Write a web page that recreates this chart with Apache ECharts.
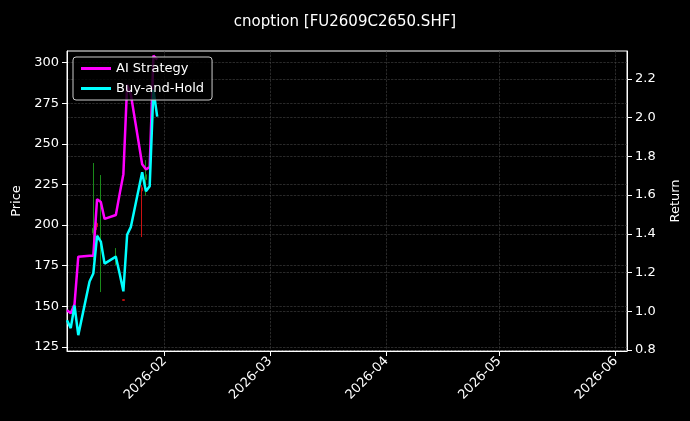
<!DOCTYPE html>
<html><head><meta charset="utf-8">
<script src="https://cdn.jsdelivr.net/npm/echarts@6/dist/echarts.min.js"></script>
<style>html,body{margin:0;background:#000}#c{width:690px;height:421px}</style></head>
<body><div id="c"></div>
<script>
const dates = ["2026-01-06","2026-01-07","2026-01-08","2026-01-09","2026-01-12","2026-01-13","2026-01-14","2026-01-15","2026-01-16","2026-01-19","2026-01-20","2026-01-21","2026-01-22","2026-01-23","2026-01-26","2026-01-27","2026-01-28","2026-01-29","2026-01-30"];
const aiStrategy = [1.005,0.99,1.036,1.282,1.287,1.287,1.579,1.564,1.477,1.497,1.605,1.708,2.169,2.118,1.759,1.733,1.744,2.32,2.30];
const buyHold = [0.954,0.913,1.03,0.877,1.154,1.195,1.39,1.36,1.246,1.282,1.195,1.103,1.395,1.436,1.718,1.62,1.646,2.144,2.005];
const candleDates = ["2026-01-13","2026-01-14","2026-01-15","2026-01-19","2026-01-21","2026-01-26","2026-01-27"];
// [open, close, low, high]
const candles = [[195,198,178.4,238.2],[201,199,197,202],[185,188,158.7,230.8],[178,181,175.3,185.8],[154,153.6,153.5,154.2],[223,221,192.6,224.6],[228,231,218,240]];
const priceTicks = [125,150,175,200,225,250,275,300];
const returnTicks = [0.8,1.0,1.2,1.4,1.6,1.8,2.0,2.2];

const ts = d => new Date(d + "T00:00:00Z").getTime();
const chart = echarts.init(document.getElementById('c'));
const gridLine = {show:true,lineStyle:{color:'#444',type:'dashed',width:0.6}};
const F = 'DejaVu Sans';
chart.setOption({
  backgroundColor:'#000',
  animation:false,
  title:{text:'cnoption [FU2609C2650.SHF]',left:'center',top:10,textStyle:{color:'#fff',fontSize:15,fontWeight:'normal',fontFamily:F}},
  legend:{left:73,top:57,orient:'vertical',itemGap:7,itemWidth:30,itemHeight:3,backgroundColor:'rgba(0,0,0,0.8)',borderColor:'#ccc',borderWidth:1,borderRadius:3,padding:[5,8],
    textStyle:{color:'#fff',fontSize:13,fontFamily:F},data:[{name:'AI Strategy',icon:'rect'},{name:'Buy-and-Hold',icon:'rect'}]},
  grid:{left:67,right:62,top:51,bottom:70,show:true,borderColor:'#fff',borderWidth:1,backgroundColor:'transparent'},
  xAxis:{type:'time',min:ts("2026-01-06"),max:ts("2026-06-04"),
    minInterval:28*86400000,maxInterval:31*86400000,
    axisLine:{show:true,onZero:false,lineStyle:{color:'#fff'}},axisTick:{show:true,lineStyle:{color:'#fff'}},
    axisLabel:{color:'#fff',rotate:45,fontSize:13,fontFamily:F,formatter:'{yyyy}-{MM}',showMinLabel:false,showMaxLabel:false,hideOverlap:false},
    splitLine:gridLine},
  yAxis:[
    {type:'value',min:122.4,max:307.2,name:'Price',nameLocation:'middle',nameGap:44,nameTextStyle:{color:'#fff',fontSize:13,fontFamily:F},
     axisLine:{show:true,lineStyle:{color:'#fff'}},axisTick:{show:true,customValues:priceTicks,lineStyle:{color:'#fff'}},
     axisLabel:{color:'#fff',fontSize:13,fontFamily:F,customValues:priceTicks},splitLine:gridLine},
    {type:'value',min:0.795,max:2.344,name:'Return',nameLocation:'middle',nameGap:42,nameTextStyle:{color:'#fff',fontSize:13,fontFamily:F},
     axisLine:{show:true,lineStyle:{color:'#fff'}},axisTick:{show:true,customValues:returnTicks,lineStyle:{color:'#fff'}},
     axisLabel:{color:'#fff',fontSize:13,fontFamily:F,customValues:returnTicks,formatter:v=>v.toFixed(1)},splitLine:gridLine}
  ],
  series:[
    {type:'candlestick',yAxisIndex:0,barWidth:2,data:candleDates.map((d,i)=>[ts(d),...candles[i]]),
     itemStyle:{color:'#1a8a1a',color0:'#cc1111',borderColor:'#1a8a1a',borderColor0:'#cc1111',borderWidth:1}},
    {name:'AI Strategy',type:'line',yAxisIndex:1,showSymbol:false,data:dates.map((d,i)=>[ts(d),aiStrategy[i]]),lineStyle:{color:'#ff00ff',width:2.5},itemStyle:{color:'#ff00ff'}},
    {name:'Buy-and-Hold',type:'line',yAxisIndex:1,showSymbol:false,data:dates.map((d,i)=>[ts(d),buyHold[i]]),lineStyle:{color:'#00ffff',width:2.5},itemStyle:{color:'#00ffff'}}
  ]
});
</script></body></html>
